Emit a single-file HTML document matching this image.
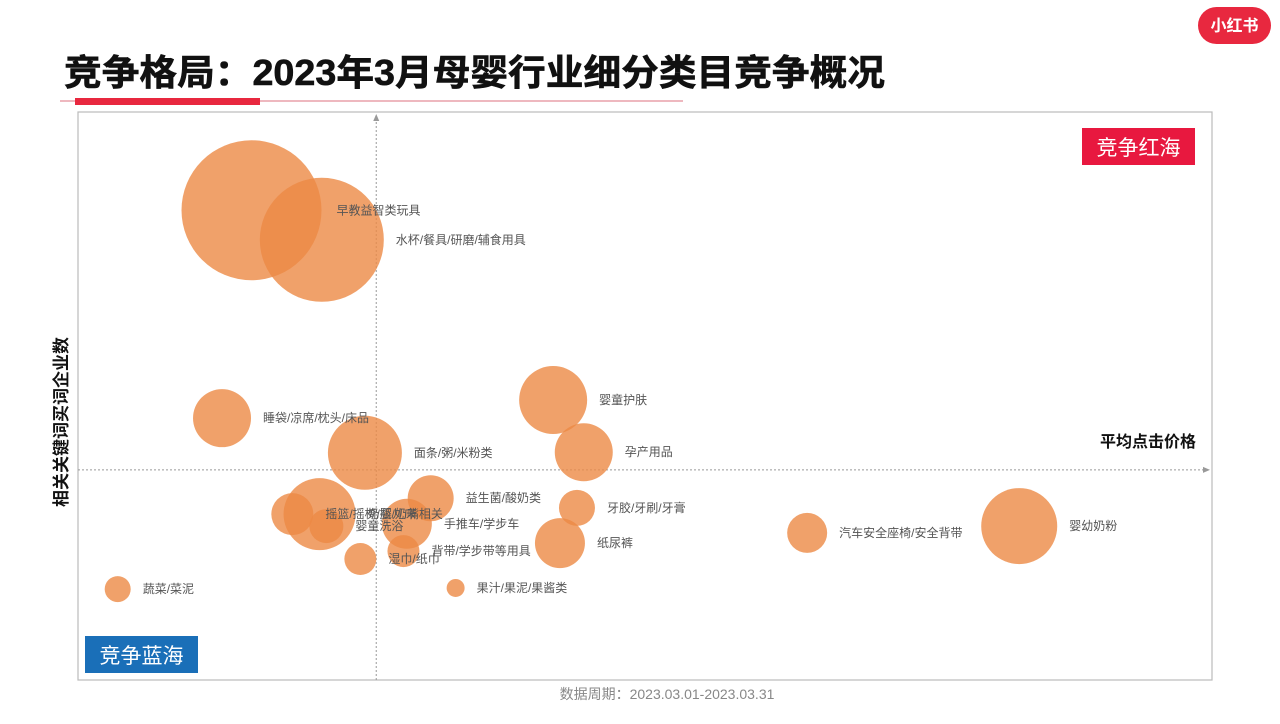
<!DOCTYPE html>
<html><head><meta charset="utf-8">
<style>
body{margin:0;width:1280px;height:719px;background:#fff;overflow:hidden;font-family:"Liberation Sans","Noto Sans CJK SC",sans-serif;}
</style></head>
<body>
<svg width="1280" height="719" xmlns="http://www.w3.org/2000/svg" font-family="Liberation Sans, Noto Sans CJK SC, sans-serif">
<g>
<rect x="1198" y="7" width="73" height="37" rx="18.5" fill="#e8283f"/>
<text x="1234.5" y="31" text-anchor="middle" fill="#fff" font-size="16" font-weight="bold">小红书</text>
</g>
<text x="64" y="85" font-size="36" font-weight="bold" fill="#111" textLength="821" lengthAdjust="spacingAndGlyphs" stroke="#111" stroke-width="0.6">竞争格局：2023年3月母婴行业细分类目竞争概况</text>
<line x1="60" y1="101" x2="683" y2="101" stroke="#e9a0aa" stroke-width="1.5"/>
<rect x="75" y="98" width="185" height="7" fill="#e8283f"/>
<rect x="78" y="112" width="1134" height="568" fill="none" stroke="#bbb" stroke-width="1.2"/>
<g id="plot"></g>
<g>
<rect x="1082" y="128" width="113" height="37" fill="#e8183f"/>
<text x="1138.5" y="155" text-anchor="middle" fill="#fff" font-size="21">竞争红海</text>
</g>
<g>
<rect x="85" y="636" width="113" height="37" fill="#1a6fb8"/>
<text x="141.5" y="663" text-anchor="middle" fill="#fff" font-size="21">竞争蓝海</text>
</g>
<text x="1196" y="447" text-anchor="end" font-size="16" font-weight="bold" fill="#111">平均点击价格</text>
<text transform="translate(67,422) rotate(-90)" text-anchor="middle" font-size="17" font-weight="bold" fill="#111">相关关键词买词企业数</text>
<text x="667" y="699" text-anchor="middle" font-size="14" fill="#888">数据周期：2023.03.01-2023.03.31</text>
</svg>
<script>
const names=["早教益智类玩具","水杯/餐具/研磨/辅食用具","睡袋/凉席/枕头/床品","面条/粥/米粉类","婴童护肤","孕产用品","益生菌/酸奶类","牙胶/牙刷/牙膏","奶瓶/奶嘴相关","摇篮/摇椅/婴儿床","婴童洗浴","手推车/学步车","背带/学步带等用具","湿巾/纸巾","纸尿裤","果汁/果泥/果酱类","蔬菜/菜泥","汽车安全座椅/安全背带","婴幼奶粉"];
const xVals=[15.3,21.5,12.7,25.3,41.9,44.6,31.1,44.0,21.3,18.9,21.9,29.0,28.7,24.9,42.5,33.3,3.5,64.3,83.0];
const yVals=[82.7,77.5,46.1,40.0,49.3,40.1,32.0,30.3,29.2,29.2,27.1,27.5,22.7,21.3,24.1,16.2,16.0,25.9,27.1];
const sizes=[70,62,29,37,34,29,23,18,36,21,17,25,16,16,25,9,13,20,38];
const X0=78,W=1134,Y0=680,H=568;
const xs=v=>X0+v/100*W, ys=v=>Y0-v/100*H;
const NS="http://www.w3.org/2000/svg";
const g=document.getElementById('plot');
const midX=xs(26.3), midY=ys(37.0);
const vl=document.createElementNS(NS,'line');


vl.setAttribute('x1',midX);vl.setAttribute('x2',midX);vl.setAttribute('y1',Y0);vl.setAttribute('y2',118);
vl.setAttribute('stroke','#999');vl.setAttribute('stroke-dasharray','2,2');g.appendChild(vl);
const hl=document.createElementNS(NS,'line');


hl.setAttribute('x1',X0);hl.setAttribute('x2',1206);hl.setAttribute('y1',midY);hl.setAttribute('y2',midY);
hl.setAttribute('stroke','#999');hl.setAttribute('stroke-dasharray','2,2');g.appendChild(hl);
const a1=document.createElementNS(NS,'path');


a1.setAttribute('d',`M1210 ${midY} l-7 -3 v6 z`);a1.setAttribute('fill','#999');g.appendChild(a1);
const a2=document.createElementNS(NS,'path');


a2.setAttribute('d',`M${midX} 114 l-3 7 h6 z`);a2.setAttribute('fill','#999');g.appendChild(a2);
names.forEach((n,i)=>{
  const cx=xs(xVals[i]),cy=ys(yVals[i]),r=sizes[i];
  const c=document.createElementNS(NS,'circle');
  
  
  c.setAttribute('cx',cx);c.setAttribute('cy',cy);c.setAttribute('r',r);
  c.setAttribute('fill','#ec8a45');c.setAttribute('fill-opacity','0.8');
  g.appendChild(c);
});
names.forEach((n,i)=>{
  const cx=xs(xVals[i]),cy=ys(yVals[i]),r=sizes[i];
  const t=document.createElementNS(NS,'text');
  
  
  let lx=cx+r+12; if(i===0) lx=cx+r+15;
  t.setAttribute('x',lx);t.setAttribute('y',cy+4);
  t.setAttribute('font-size','12');t.setAttribute('fill','#555');
  t.textContent=n;g.appendChild(t);
});
</script>
</body></html>
